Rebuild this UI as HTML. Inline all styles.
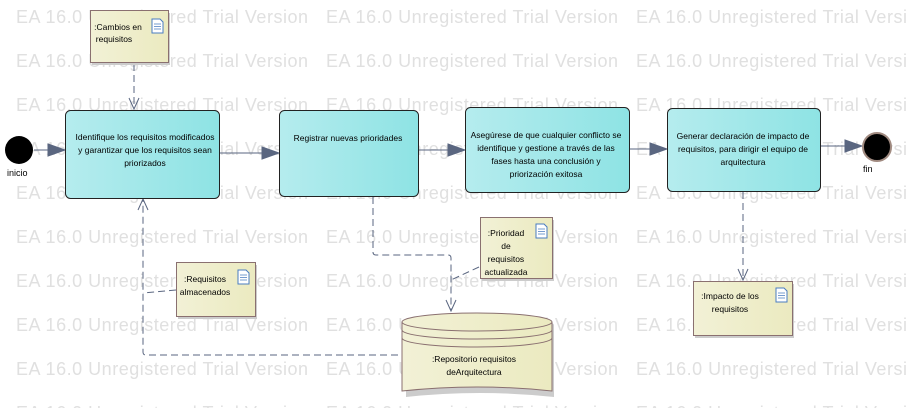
<!DOCTYPE html>
<html><head><meta charset="utf-8"><style>
html,body{margin:0;padding:0;background:#fff;}
svg{display:block;font-family:"Liberation Sans",sans-serif;}
.wm{font-size:18px;fill:#e0e0e0;}
.t{font-size:8.5px;fill:#000;text-anchor:middle;}
</style></head><body>
<svg width="906" height="408" viewBox="0 0 906 408" xmlns="http://www.w3.org/2000/svg">
<defs>
<linearGradient id="g" x1="0" x2="1" y1="0" y2="0"><stop offset="0" stop-color="#b5ecee"/><stop offset="1" stop-color="#8ee3e4"/></linearGradient>
<linearGradient id="n" x1="0" x2="1" y1="0" y2="0"><stop offset="0" stop-color="#f2f1d6"/><stop offset="1" stop-color="#ebeac0"/></linearGradient>
<g id="doc"><path d="M0 0h8l3 3v11h-11z" fill="#fff" stroke="#4a7cc0" stroke-width="1"/><path d="M2 5h7M2 7.5h7M2 10h7" stroke="#4a7cc0" stroke-width="0.8"/></g>
</defs>
<g class="wm">
<g id="wr"><text x="16" y="23" textLength="292">EA 16.0 Unregistered Trial Version</text><text x="326" y="23" textLength="292">EA 16.0 Unregistered Trial Version</text><text x="636" y="23" textLength="292">EA 16.0 Unregistered Trial Version</text></g>
<use href="#wr" y="44"/><use href="#wr" y="88"/><use href="#wr" y="132"/><use href="#wr" y="176"/><use href="#wr" y="220"/><use href="#wr" y="264"/><use href="#wr" y="308"/><use href="#wr" y="352"/><use href="#wr" y="396"/>
</g>

<!-- dashed connectors -->
<g fill="none" stroke="#5a6680" stroke-width="1" stroke-dasharray="7,4">
<path d="M134 64V108"/>
<path d="M373 197V252q0 3 3 3H448q3 0 3 3V311"/>
<path d="M479 267L451 280"/>
<path d="M398 355H146q-3 0-3-3V200"/>
<path d="M176 290L143 293"/>
<path d="M743 192V280"/>
</g>
<g fill="none" stroke="#5a6680" stroke-width="1">
<path d="M129 98L134 109L139 98"/>
<path d="M446 300L451 311L456 300"/>
<path d="M138 210L143 199L148 210"/>
<path d="M738 269L743 280L748 269"/>
</g>

<!-- solid arrows -->
<g stroke="#5a6680" stroke-width="1" fill="#5a6680">
<path d="M34 150H52"/><path d="M48 144L65 150L48 156z"/>
<path d="M219 153H264"/><path d="M262 147L279 153L262 159z"/>
<path d="M418 150H450"/><path d="M448 144L465 150L448 156z"/>
<path d="M629 149H652"/><path d="M650 143L667 149L650 155z"/>
<path d="M820 146H846"/><path d="M845 140L862 146L845 152z"/>
</g>

<!-- start/end -->
<circle cx="19" cy="150" r="14" fill="#000"/>
<text x="7" y="176" style="font-size:9px">inicio</text>
<circle cx="877" cy="147" r="14" fill="#000" stroke="#a08a80" stroke-width="2"/>
<text x="863" y="172" style="font-size:9px">fin</text>

<!-- activities -->
<g stroke="#222" stroke-width="1" fill="url(#g)">
<rect x="65.5" y="110.5" width="154" height="88" rx="5"/>
<rect x="279.5" y="110.5" width="139" height="86" rx="5"/>
<rect x="465.5" y="107.5" width="164" height="85" rx="5"/>
<rect x="667.5" y="108.5" width="153" height="83" rx="5"/>
</g>
<text class="t" x="145" y="140">Identifique los requisitos modificados</text>
<text class="t" x="145" y="153">y garantizar que los requisitos sean</text>
<text class="t" x="145" y="166">priorizados</text>
<text class="t" x="348" y="141">Registrar nuevas prioridades</text>
<text class="t" x="546" y="138">Asegúrese de que cualquier conflicto se</text>
<text class="t" x="546" y="151">identifique y gestione a través de las</text>
<text class="t" x="546" y="164">fases hasta una conclusión y</text>
<text class="t" x="546" y="177">priorización exitosa</text>
<text class="t" x="743" y="139">Generar declaración de impacto de</text>
<text class="t" x="743" y="152">requisitos,  para dirigir el equipo de</text>
<text class="t" x="743" y="165">arquitectura</text>

<!-- notes -->
<g stroke="#8a7070" stroke-width="1" fill="url(#n)">
<rect x="92" y="13" width="78" height="52" fill="#ccc" stroke="none"/>
<rect x="90.5" y="10.5" width="78" height="52"/>
<rect x="178" y="265" width="79" height="54" fill="#ccc" stroke="none"/>
<rect x="176.5" y="262.5" width="79" height="54"/>
<rect x="482" y="220" width="72" height="61" fill="#ccc" stroke="none"/>
<rect x="480.5" y="217.5" width="72" height="61"/>
<rect x="695" y="284" width="99" height="54" fill="#ccc" stroke="none"/>
<rect x="693.5" y="281.5" width="99" height="54"/>
</g>
<use href="#doc" x="152" y="19"/><use href="#doc" x="238" y="270"/><use href="#doc" x="536" y="224"/><use href="#doc" x="776" y="288"/>
<text class="t" x="118" y="30">:Cambios en</text><text class="t" x="114" y="42">requisitos</text>
<text class="t" x="205" y="282">:Requisitos</text><text class="t" x="205" y="295">almacenados</text>
<text class="t" x="506" y="236">:Prioridad</text><text class="t" x="506" y="249">de</text><text class="t" x="506" y="262">requisitos</text><text class="t" x="506" y="275">actualizada</text>
<text class="t" x="730" y="299">:Impacto de los</text><text class="t" x="730" y="312">requisitos</text>

<!-- cylinder -->
<path d="M404 394V322a74 9 0 0 1 148 0V394q-74 -8 -148 0z" fill="#ccc" transform="translate(2,3)"/>
<path d="M402 391V322a75 9 0 0 1 150 0V391q-75 -8 -150 0z" fill="url(#n)" stroke="#8a7070"/>
<path d="M402 322a75 9 0 0 0 150 0M402 330a75 9 0 0 0 150 0M402 338a75 9 0 0 0 150 0" fill="none" stroke="#8a7070"/>
<text class="t" x="474" y="362">:Repositorio requisitos</text>
<text class="t" x="474" y="375">deArquitectura</text>
</svg>
</body></html>
